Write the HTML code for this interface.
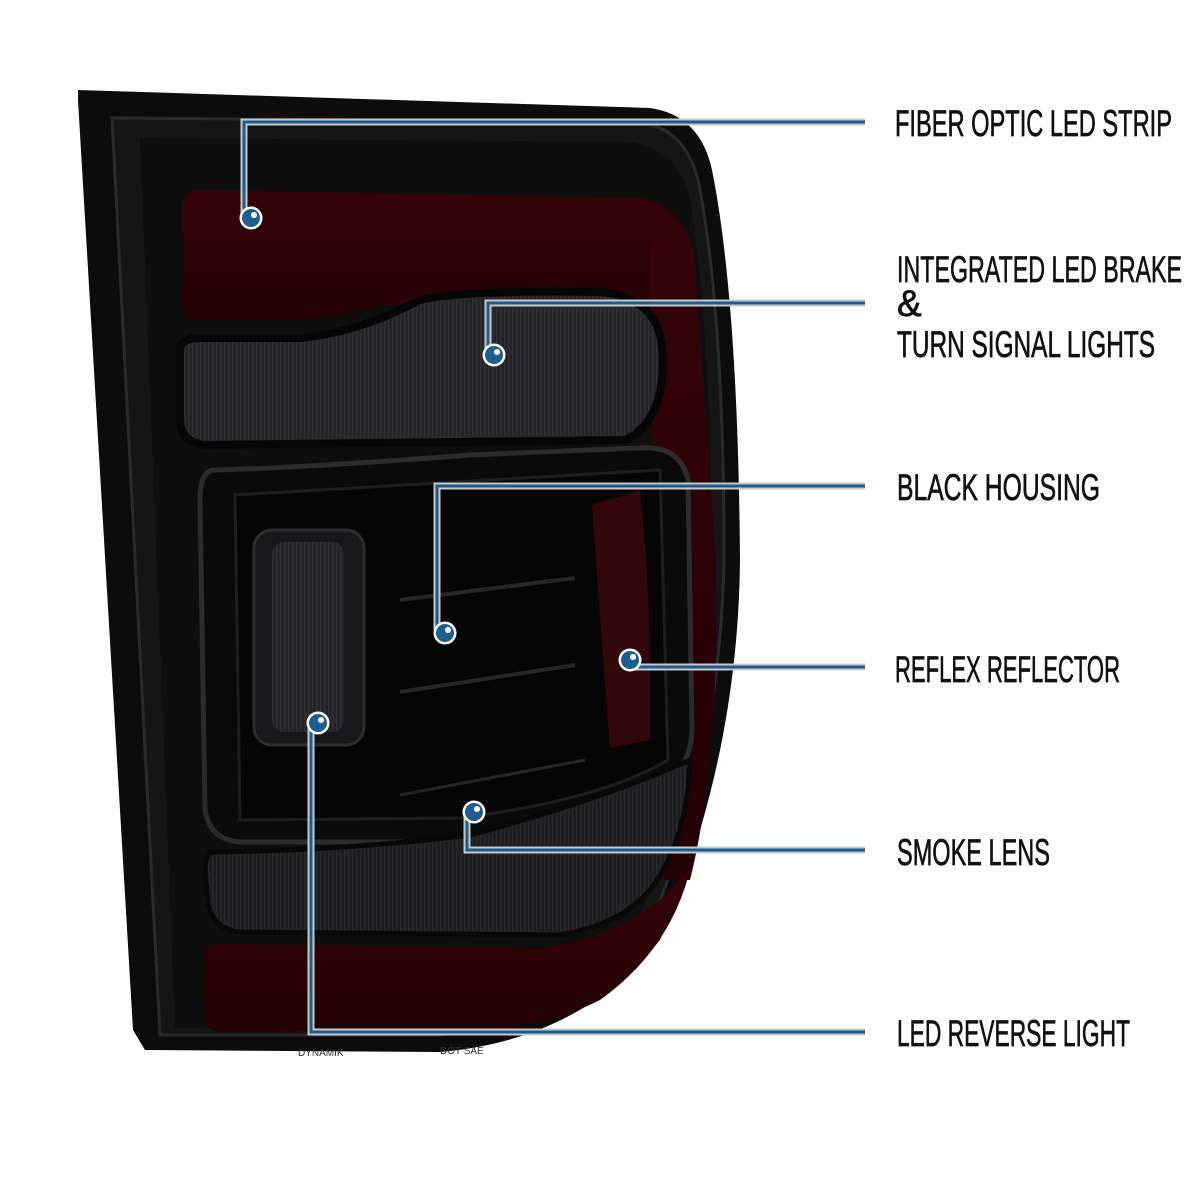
<!DOCTYPE html>
<html><head><meta charset="utf-8"><style>
html,body{margin:0;padding:0;background:#fff;}
svg{display:block;}
text{font-family:"Liberation Sans Narrow","Liberation Sans",sans-serif;fill:#111;stroke:#111;stroke-width:0.7;font-size:37px;}
</style></head><body>
<svg width="1200" height="1200" viewBox="0 0 1200 1200" xmlns="http://www.w3.org/2000/svg">
<defs>
<pattern id="str" width="4" height="10" patternUnits="userSpaceOnUse">
<rect width="4" height="10" fill="#242427"/><rect width="1.5" height="10" fill="#303034"/>
</pattern>
<pattern id="str2" width="4" height="10" patternUnits="userSpaceOnUse">
<rect width="4" height="10" fill="#1d1d20"/><rect width="1.5" height="10" fill="#29292d"/>
</pattern>
<linearGradient id="red" x1="0" y1="0" x2="0" y2="1"><stop offset="0" stop-color="#340307"/><stop offset="1" stop-color="#240205"/></linearGradient>
</defs>
<path d="M78,90 L650,108 Q700,115 712,170 Q738,300 740,560 Q738,760 660,940 Q580,1040 440,1052 L145,1050 L133,1030 L78,100 Z" fill="#0c0c0c"/>
<path d="M112,118 L640,122 Q690,130 700,190 Q724,320 724,560 Q720,760 650,925 Q570,1025 440,1035 L160,1035 Z" fill="#151516" stroke="#2a2a2c" stroke-width="3"/>
<path d="M140,138 L630,142 Q680,150 690,200 Q710,320 712,560 Q708,760 640,915 Q560,1015 440,1025 L175,1028 Z" fill="#0e0e0f"/>
<path d="M183,205 Q183,190 200,190 L640,198 Q685,205 695,260 L716,560 Q720,760 690,880 L660,880 L650,300 L190,310 Z" fill="url(#red)"/>
<path d="M183,205 L650,205 L650,300 Q560,285 420,295 Q340,318 300,320 L195,320 Q183,320 183,305 Z" fill="url(#red)"/>
<path d="M180,350 Q180,338 200,338 L300,338 Q360,332 420,300 Q460,290 600,292 Q655,296 662,345 Q668,420 625,440 L205,445 Q180,442 180,420 Z" fill="url(#str)" stroke="#060606" stroke-width="8"/>
<path d="M215,470 Q200,470 200,500 L205,810 Q210,840 240,842 L460,842 Q560,830 640,800 Q690,780 692,730 L688,480 Q680,445 640,448 L470,455 Q300,468 215,470 Z" fill="#0a0a0a" stroke="#2c2c2e" stroke-width="5"/>
<path d="M235,495 L660,470 L668,760 Q600,800 460,818 L240,820 Z" fill="#050505" stroke="#1e1e20" stroke-width="3"/>
<path d="M592,505 L640,490 Q652,600 650,740 L610,748 Q600,620 592,505 Z" fill="#320709"/>
<path d="M400,600 L575,578" stroke="#262628" stroke-width="4" fill="none"/>
<path d="M400,692 L575,665" stroke="#262628" stroke-width="4" fill="none"/>
<path d="M400,795 L585,760" stroke="#262628" stroke-width="3" fill="none"/>
<rect x="254" y="530" width="110" height="215" rx="18" fill="#18181a" stroke="#2e2e30" stroke-width="3"/>
<rect x="272" y="542" width="72" height="190" rx="12" fill="url(#str)"/>
<path d="M215,852 Q205,852 205,870 L208,905 Q215,930 240,932 L560,935 Q620,925 650,890 Q688,840 690,760 Q600,800 470,835 Q350,850 215,852 Z" fill="url(#str2)" stroke="#080808" stroke-width="5"/>
<path d="M205,958 Q205,944 222,944 L540,948 Q610,940 660,900 L690,870 Q670,950 600,1000 Q540,1030 480,1030 L222,1032 Q205,1032 205,1015 Z" fill="url(#red)"/>
<text x="298" y="1056" style="font-size:10px;fill:#333;stroke:none">DYNAMIK</text>
<text x="440" y="1054" style="font-size:10px;fill:#333;stroke:none">DOT SAE</text>
<g fill="none" stroke-linejoin="miter">
<g stroke="#c8c8c8" stroke-width="7">
<polyline points="244,215 244,122 865,122"/>
<polyline points="488,352 488,303 865,303"/>
<polyline points="437,630 437,486 865,486"/>
<polyline points="632,667 865,667"/>
<polyline points="467,815 467,850 865,850"/>
<polyline points="311,725 311,1032 865,1032"/>
</g>
<g stroke="#1d5c8c" stroke-width="3">
<polyline points="244,215 244,122 865,122"/>
<polyline points="488,352 488,303 865,303"/>
<polyline points="437,630 437,486 865,486"/>
<polyline points="632,667 865,667"/>
<polyline points="467,815 467,850 865,850"/>
<polyline points="311,725 311,1032 865,1032"/>
</g>
</g>
<g>
<g transform="translate(251,218)"><circle r="11.5" fill="#fff"/><circle r="9" fill="#1b5e8f"/><circle cx="3" cy="-3" r="3" fill="#fff"/></g>
<g transform="translate(494,355)"><circle r="11.5" fill="#fff"/><circle r="9" fill="#1b5e8f"/><circle cx="3" cy="-3" r="3" fill="#fff"/></g>
<g transform="translate(445,633)"><circle r="11.5" fill="#fff"/><circle r="9" fill="#1b5e8f"/><circle cx="3" cy="-3" r="3" fill="#fff"/></g>
<g transform="translate(630,660)"><circle r="11.5" fill="#fff"/><circle r="9" fill="#1b5e8f"/><circle cx="3" cy="-3" r="3" fill="#fff"/></g>
<g transform="translate(474,812)"><circle r="11.5" fill="#fff"/><circle r="9" fill="#1b5e8f"/><circle cx="3" cy="-3" r="3" fill="#fff"/></g>
<g transform="translate(318,723)"><circle r="11.5" fill="#fff"/><circle r="9" fill="#1b5e8f"/><circle cx="3" cy="-3" r="3" fill="#fff"/></g>
</g>
<text x="895" y="136" textLength="277" lengthAdjust="spacingAndGlyphs">FIBER OPTIC LED STRIP</text>
<text x="897" y="282" textLength="285" lengthAdjust="spacingAndGlyphs">INTEGRATED LED BRAKE</text>
<text x="897" y="316">&amp;</text>
<text x="897" y="357" textLength="258" lengthAdjust="spacingAndGlyphs">TURN SIGNAL LIGHTS</text>
<text x="897" y="500" textLength="203" lengthAdjust="spacingAndGlyphs">BLACK HOUSING</text>
<text x="895" y="682" textLength="225" lengthAdjust="spacingAndGlyphs">REFLEX REFLECTOR</text>
<text x="897" y="865" textLength="153" lengthAdjust="spacingAndGlyphs">SMOKE LENS</text>
<text x="897" y="1046" textLength="233" lengthAdjust="spacingAndGlyphs">LED REVERSE LIGHT</text>
</svg>
</body></html>
